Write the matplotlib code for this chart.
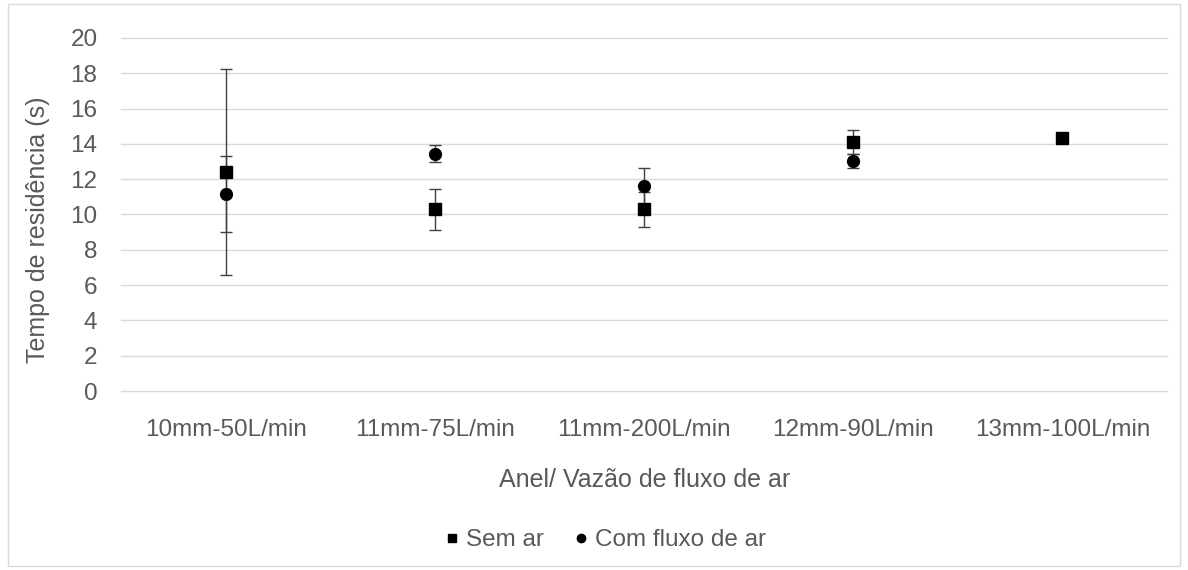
import matplotlib
matplotlib.use("Agg")
import matplotlib.pyplot as plt
import numpy as np
from matplotlib.patches import Rectangle
from matplotlib.lines import Line2D

categories = ["10mm-50L/min", "11mm-75L/min", "11mm-200L/min", "12mm-90L/min", "13mm-100L/min"]
sem_ar = [12.4, 10.3, 10.3, 14.1, 14.35]
sem_ar_err = [5.85, 1.15, 1.0, 0.7, 0.0]
com_fluxo = [11.15, 13.45, 11.6, 13.05, np.nan]
com_fluxo_err = [2.15, 0.5, 1.05, 0.4, 0.0]
yticks = [0, 2, 4, 6, 8, 10, 12, 14, 16, 18, 20]

plt.rcParams['font.family'] = ['Liberation Sans', 'DejaVu Sans']
gray = "#595959"
fs = 17.5

W, H = 1188, 570
fig = plt.figure(figsize=(W / 100, H / 100), dpi=100)
L, R, T, B = 121, 1167, 38, 391
ax = fig.add_axes([L / W, 1 - B / H, (R - L) / W, (B - T) / H])

x = np.arange(len(categories))
ax.errorbar(x, sem_ar, yerr=sem_ar_err, fmt='s', color='black', ms=8.5,
            ecolor='#404040', elinewidth=1.0, capsize=4, capthick=1.0, label='Sem ar', zorder=3)
ax.errorbar(x, com_fluxo, yerr=com_fluxo_err, fmt='o', color='black', ms=8.5,
            ecolor='#404040', elinewidth=1.0, capsize=4, capthick=1.0, label='Com fluxo de ar', zorder=3)

ax.set_xlim(-0.5, len(categories) - 0.5)
ax.set_ylim(0, 20)
ax.set_yticks(yticks)
ax.set_xticks(x)
ax.set_xticklabels(categories)
ax.grid(axis='y', color='#d9d9d9', linewidth=1.0)
for gl in ax.get_ygridlines():
    gl.set_clip_on(False)
ax.set_axisbelow(True)
for s in ax.spines.values():
    s.set_visible(False)
ax.tick_params(axis='both', length=0, labelsize=fs, labelcolor=gray)
ax.tick_params(axis='y', pad=17)
ax.tick_params(axis='x', pad=20)

fig.text(38 / W, 1 - 230 / H, "Tempo de residência (s)", rotation=90, fontsize=18,
         color=gray, ha='center', va='center')
fig.text(645 / W, 1 - 480 / H, "Anel/ Vazão de fluxo de ar", fontsize=18,
         color=gray, ha='center', va='center')

labels = ['Sem ar', 'Com fluxo de ar']
h = [Line2D([], [], marker='s', color='black', ls='none', ms=6),
     Line2D([], [], marker='o', color='black', ls='none', ms=6)]
fig.legend(h, labels, loc='center', bbox_to_anchor=(603 / W, 1 - 540 / H), ncol=2,
           frameon=False, fontsize=fs, labelcolor=gray, handletextpad=0.1,
           columnspacing=1.0, handlelength=1.0)

fig.patches.append(Rectangle((8 / W, 4 / H), 1172 / W, 562 / H, transform=fig.transFigure,
                             fill=False, edgecolor='#d9d9d9', linewidth=1.0))

fig.savefig("out.png", dpi=100, facecolor='white')
